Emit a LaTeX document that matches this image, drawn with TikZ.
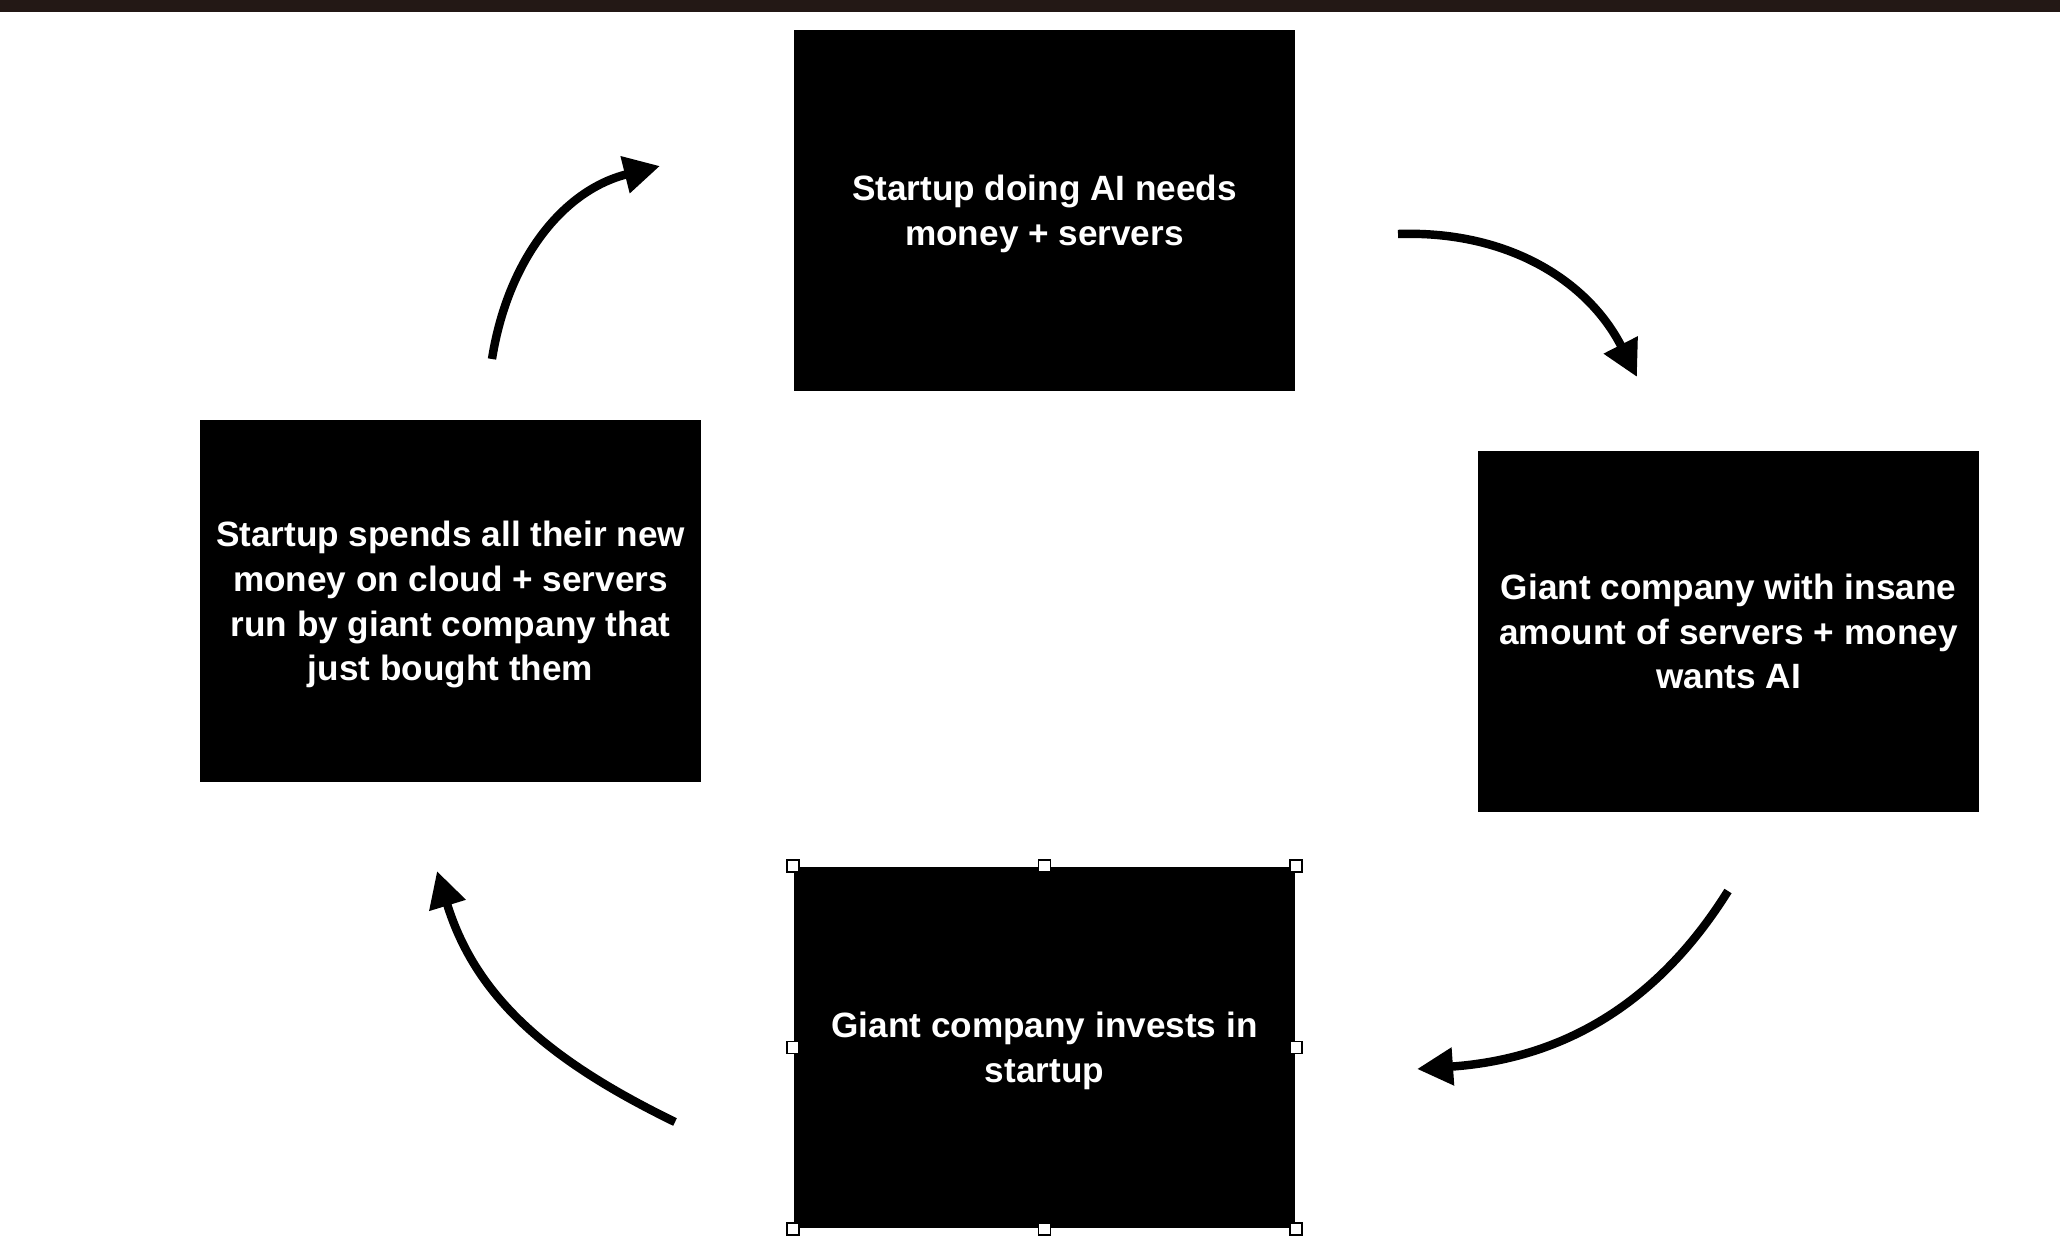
\documentclass[tikz,border=0pt]{standalone}
\usepackage{fontspec}
\setmainfont{Liberation Sans}
\usetikzlibrary{arrows.meta}
\definecolor{topbar}{HTML}{231815}

\begin{document}
\begin{tikzpicture}[x=0.01cm,y=0.01cm,
  card/.style={fill=black,text=white,minimum width=5.01cm,minimum height=3.61cm,inner sep=0pt,align=center,text depth=0pt,font=\fontsize{10}{12.7}\selectfont\bfseries},
  cyclearrow/.style={line width=2.4pt,-{Triangle[length=0.36cm,width=0.36cm]}},
  grip/.style={draw=black,fill=white,line width=0.5pt,minimum size=0.12cm,inner sep=0pt}]
\useasboundingbox (0,0) rectangle (2060,1250);
\fill[topbar] (0,1238) rectangle (2060,1250);

\node[card] (needs) at (1044.5,1039.5) {Startup doing AI needs\\money + servers};
\node[card] (giant) at (1728.5,618.5) {Giant company with insane\\amount of servers + money\\wants AI};
\node[card] (invest) at (1044.5,202.5) {Giant company invests in\\startup};
\node[card] (spend) at (450.5,649) {Startup spends all their new\\money on cloud + servers\\run by giant company that\\just bought them};

\foreach \a/\n in {north west/nw,north/n,north east/ne,east/e,south east/se,south/s,south west/sw,west/w}
  \node[grip] (grip-\n) at (invest.\a) {};

\coordinate (needs-out) at (1398,1016);
\coordinate (giant-in) at (1637,873);
\coordinate (giant-out) at (1728,359);
\coordinate (invest-in) at (1417,181);
\coordinate (invest-out) at (675,128);
\coordinate (spend-in) at (437,379);
\coordinate (spend-out) at (492,891);
\coordinate (needs-in) at (660,1084);

\draw[cyclearrow] (needs-out) to[out=2,in=117] (giant-in);
\draw[cyclearrow] (giant-out) to[out=238,in=4] (invest-in);
\draw[cyclearrow] (invest-out) to[out=154,in=-73] (spend-in);
\draw[cyclearrow] (spend-out) to[out=81,in=194] (needs-in);
\end{tikzpicture}
\end{document}
